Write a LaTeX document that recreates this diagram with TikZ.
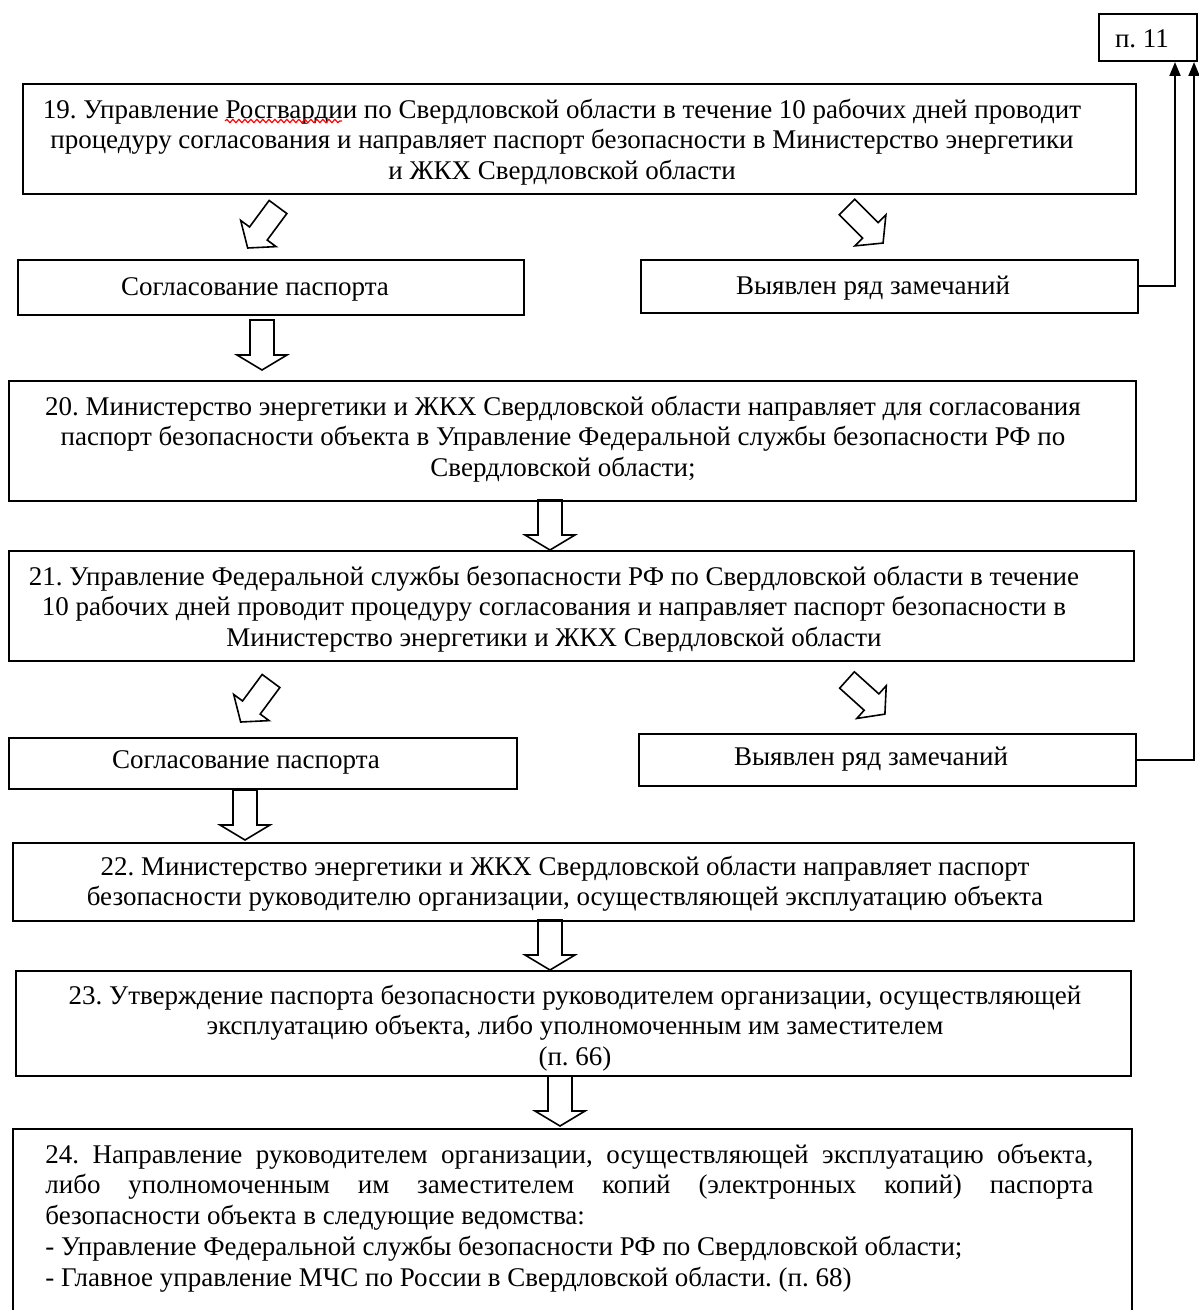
\documentclass[tikz,border=0pt]{standalone}
\usepackage{fontspec}
\setmainfont{Liberation Serif}
\usetikzlibrary{decorations.pathmorphing,arrows.meta}
\frenchspacing
\begin{document}
\begin{tikzpicture}[x=0.5pt,y=-0.5pt,
  box/.style={draw,line width=1pt,inner sep=0pt,anchor=north west},
  txt/.style={font=\fontsize{13.5pt}{15.2pt}\selectfont,inner sep=0pt,align=center},
  conn/.style={line width=1pt,-{Triangle[length=7pt,width=5.5pt]}},
  barrow/.pic={\draw[line width=0.8pt,line join=miter] (0,-12)--(35,-12)--(35,-25)--(50,0)--(35,25)--(35,12)--(0,12)--cycle;},
  darrow/.pic={\draw[line width=0.8pt,line join=miter] (0,-11)--(33,-11)--(33,-22)--(51,0)--(33,22)--(33,11)--(0,11)--cycle;}
]
\useasboundingbox[fill=white] (0,0) rectangle (1198,1310);

% boxes
\node[box,minimum width=49pt,minimum height=23.5pt] (p11) at (1098,13) {};
\node[box,minimum width=556.5pt,minimum height=55pt] (b19) at (22,83) {};
\node[box,minimum width=253pt,minimum height=27.5pt] (s1) at (17,259) {};
\node[box,minimum width=248.5pt,minimum height=26.5pt] (v1) at (640,259) {};
\node[box,minimum width=563.5pt,minimum height=60pt] (b20) at (8,380) {};
\node[box,minimum width=562.5pt,minimum height=55pt] (b21) at (8,550) {};
\node[box,minimum width=254pt,minimum height=25.5pt] (s2) at (8,737) {};
\node[box,minimum width=248.5pt,minimum height=26pt] (v2) at (638,733) {};
\node[box,minimum width=560.5pt,minimum height=39pt] (b22) at (12,842) {};
\node[box,minimum width=557.5pt,minimum height=52.5pt] (b23) at (15,970) {};
\node[box,minimum width=559.5pt,minimum height=93pt] (b24) at (12,1128) {};

% texts
\node[txt] (tp11) at (1142,39) {п. 11};
\node[txt] (t19) at (562,142) {19. Управление Росгвардии по Свердловской области в течение 10 рабочих дней проводит\\процедуру согласования и направляет паспорт безопасности в Министерство энергетики\\и ЖКХ Свердловской области};
\node[txt] (ts1) at (255,289) {Согласование паспорта};
\node[txt] (tv1) at (873,288) {Выявлен ряд замечаний};
\node[txt] (t20) at (563,439) {20. Министерство энергетики и ЖКХ Свердловской области направляет для согласования\\паспорт безопасности объекта в Управление Федеральной службы безопасности РФ по\\Свердловской области;};
\node[txt] (t21) at (554,609) {21. Управление Федеральной службы безопасности РФ по Свердловской области в течение\\10 рабочих дней проводит процедуру согласования и направляет паспорт безопасности в\\Министерство энергетики и ЖКХ Свердловской области};
\node[txt] (ts2) at (246,762) {Согласование паспорта};
\node[txt] (tv2) at (871,759) {Выявлен ряд замечаний};
\node[txt] (t22) at (565,884) {22. Министерство энергетики и ЖКХ Свердловской области направляет паспорт\\безопасности руководителю организации, осуществляющей эксплуатацию объекта};
\node[txt] (t23) at (575,1028) {23. Утверждение паспорта безопасности руководителем организации, осуществляющей\\эксплуатацию объекта, либо уполномоченным им заместителем\\(п. 66)};
\node[txt,anchor=base west,align=left] (t24) at (45,1163) {\parbox[t]{524pt}{\parindent=0pt\fontsize{13.5pt}{15.4pt}\selectfont
24. Направление руководителем организации, осуществляющей эксплуатацию объекта,\linebreak
либо уполномоченным им заместителем копий (электронных копий) паспорта\linebreak
безопасности объекта в следующие ведомства:\newline
- Управление Федеральной службы безопасности РФ по Свердловской области;\newline
- Главное управление МЧС по России в Свердловской области. (п. 68)}};

% spell-check mark
\draw[red,line width=0.6pt,decorate,decoration={snake,amplitude=0.8pt,segment length=3pt}] (225,121) -- (342,121);

% block arrows
\pic[rotate=-126.5] at (278,207) {darrow};
\pic[rotate=-45] at (847,207) {darrow};
\pic[rotate=-126.5] at (271,681) {darrow};
\pic[rotate=-42] at (847,680) {darrow};
\pic[rotate=-90] at (262,320) {barrow};
\pic[rotate=-90] at (550,500) {barrow};
\pic[rotate=-90] at (245,790) {barrow};
\pic[rotate=-90] at (550,920) {barrow};
\pic[rotate=-90] at (560,1076) {barrow};

% connectors to p. 11
\draw[conn] (v1.east) -| ([xshift=13.5pt]p11.south);
\draw[conn] (v2.east) -| ([xshift=23pt]p11.south);
\end{tikzpicture}
\end{document}
